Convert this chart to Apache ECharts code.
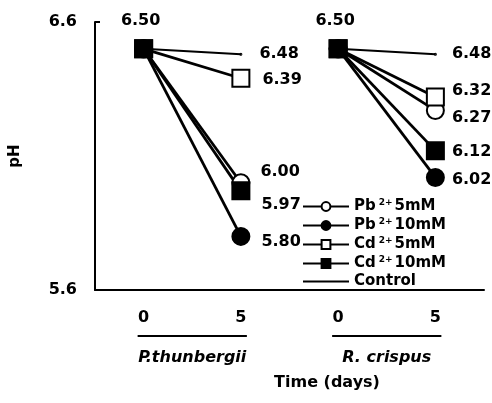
<!DOCTYPE html>
<html>
<head>
<meta charset="utf-8">
<script src="https://cdn.jsdelivr.net/npm/echarts@6/dist/echarts.min.js"></script>
<style>
  html, body { margin: 0; padding: 0; background: #fff; }
  #chart { width: 492px; height: 403px; }
</style>
</head>
<body>
<div id="chart"></div>
<script>
// ---- data ----
const days = ['0', '5', '0', '5'];
const species = ['P.thunbergii', 'R. crispus'];
const startPH = [6.50, 6.50];
const pb5mM = [6.00, 6.27];
const pb10mM = [5.80, 6.02];
const cd5mM = [6.39, 6.32];
const cd10mM = [5.97, 6.12];
const control = [6.48, 6.48];
const yTicks = [5.6, 6.6];

const FONT = 'DejaVu Sans';
const BLACK = '#000';

// 系列样式 (标签偏移按物种分别设置)
const treatments = [
    { name: 'Pb2+5mM', ion: 'Pb', conc: '5mM', values: pb5mM, symbol: 'circle', fill: '#fff', width: 2.8, offsets: [[5, -11], [2, 7]] },
    { name: 'Pb2+10mM', ion: 'Pb', conc: '10mM', values: pb10mM, symbol: 'circle', fill: BLACK, width: 2.8, offsets: [[6, 5], [2, 2]] },
    { name: 'Cd2+5mM', ion: 'Cd', conc: '5mM', values: cd5mM, symbol: 'rect', fill: '#fff', width: 2.8, offsets: [[7, 2], [2, -6]] },
    { name: 'Cd2+10mM', ion: 'Cd', conc: '10mM', values: cd10mM, symbol: 'rect', fill: BLACK, width: 2.8, offsets: [[6, 14], [2, 1]], startLabel: true },
    { name: 'Control', ion: null, conc: null, values: control, symbol: 'circle', fill: BLACK, width: 2, size: 1, offsets: [[12, 0], [10, 0]] }
];

const labelText = { fontFamily: FONT, fontWeight: 'bold', fontSize: 16, color: BLACK };

const series = [];
treatments.forEach(t => {
    species.forEach((sp, s) => {
        const data = days.map(() => '-');
        data[2 * s] = {
            value: startPH[s],
            label: t.startLabel ? Object.assign({ show: true, position: 'top', distance: 10,
                offset: [-3, 0], formatter: p => p.value.toFixed(2) }, labelText) : { show: false }
        };
        data[2 * s + 1] = {
            value: t.values[s],
            label: Object.assign({ show: true, position: 'right', distance: 5,
                offset: t.offsets[s], formatter: p => p.value.toFixed(2) }, labelText)
        };
        series.push({
            name: t.name,
            type: 'line',
            data: data,
            connectNulls: false,
            symbol: t.symbol,
            symbolSize: t.size || 17,
            showAllSymbol: true,
            lineStyle: { color: BLACK, width: t.width },
            itemStyle: { color: t.fill, borderColor: BLACK, borderWidth: 2 },
            emphasis: { disabled: true },
            animation: false
        });
    });
});

const chart = echarts.init(document.getElementById('chart'));

const option = {
    animation: false,
    backgroundColor: '#fff',
    title: {
        text: 'Time (days)',
        left: 322,
        top: 370,
        textAlign: 'center',
        textStyle: { fontFamily: FONT, fontWeight: 'bold', fontSize: 16, color: BLACK }
    },
    legend: {
        orient: 'vertical',
        left: 297,
        top: 193,
        itemWidth: 46,
        itemHeight: 11,
        itemGap: 3,
        data: treatments.map(t => t.ion ? t.name : { name: t.name, itemStyle: { opacity: 0 } }),
        formatter: function (name) {
            const t = treatments.find(x => x.name === name);
            if (!t.ion) return '{a|' + name + '}';
            return '{a|' + t.ion + '}{s|2+}{a|' + t.conc + '}';
        },
        textStyle: {
            fontFamily: FONT, fontWeight: 'bold', fontSize: 15, color: BLACK,
            rich: {
                a: { fontFamily: FONT, fontWeight: 'bold', fontSize: 15, color: BLACK },
                s: { fontFamily: FONT, fontWeight: 'bold', fontSize: 9, color: BLACK, verticalAlign: 'top', padding: [0, 2, 8, 3] }
            }
        }
    },
    grid: { left: 89, right: 8, top: 22, bottom: 113 },
    xAxis: [
        {
            type: 'category',
            data: days,
            boundaryGap: true,
            axisLine: { lineStyle: { color: BLACK, width: 2 } },
            axisTick: { inside: true, length: 4, lineStyle: { color: BLACK, width: 1.5 } },
            axisLabel: { margin: 20, fontFamily: FONT, fontWeight: 'bold', fontSize: 16, color: BLACK },
            splitLine: { show: false }
        },
        {
            type: 'category',
            data: species,
            position: 'bottom',
            offset: 52,
            axisLine: { show: false },
            axisTick: { show: false },
            axisLabel: { margin: 8, fontFamily: FONT, fontWeight: 'bold', fontStyle: 'italic', fontSize: 16, color: BLACK },
            splitLine: { show: false }
        }
    ],
    yAxis: {
        type: 'value',
        min: 5.6,
        max: 6.6,
        name: 'pH',
        nameLocation: 'middle',
        nameRotate: 90,
        nameGap: 72,
        nameTextStyle: { fontFamily: FONT, fontWeight: 'bold', fontSize: 15, color: BLACK },
        axisLine: { show: true, lineStyle: { color: BLACK, width: 2 } },
        axisTick: { show: true, inside: true, length: 5, customValues: [6.6], lineStyle: { color: BLACK, width: 2 } },
        axisLabel: {
            customValues: yTicks,
            margin: 18,
            fontFamily: FONT, fontWeight: 'bold', fontSize: 16, color: BLACK,
            formatter: v => v.toFixed(1)
        },
        splitLine: { show: false }
    },
    series: series
};

chart.setOption(option);

// 物种下划线：按类别位置换算像素
const underlineY = 336;
const graphics = species.map((sp, s) => {
    const x0 = chart.convertToPixel({ xAxisIndex: 0 }, 2 * s);
    const x1 = chart.convertToPixel({ xAxisIndex: 0 }, 2 * s + 1);
    return {
        type: 'line',
        shape: { x1: x0 - 6, y1: underlineY, x2: x1 + 6, y2: underlineY },
        style: { stroke: BLACK, lineWidth: 2 }
    };
});
chart.setOption({ graphic: graphics });
</script>
</body>
</html>
